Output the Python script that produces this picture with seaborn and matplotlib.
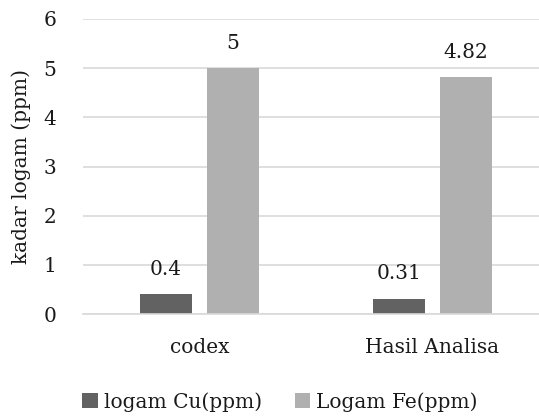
import matplotlib
matplotlib.use("Agg")
import matplotlib.pyplot as plt
import seaborn as sns
import pandas as pd

categories = ["codex", "Hasil Analisa"]
cu_values = [0.4, 0.31]
fe_values = [5, 4.82]
series_names = ["logam Cu(ppm)", "Logam Fe(ppm)"]
cu_labels = ["0.4", "0.31"]
fe_labels = ["5", "4.82"]

df = pd.DataFrame({
    "kategori": categories * 2,
    "seri": [series_names[0]] * 2 + [series_names[1]] * 2,
    "nilai": cu_values + fe_values,
})

sns.set_theme(style="white")
plt.rcParams["font.family"] = ["DejaVu Serif"]
FS = 14.5
TXT = "#1a1a1a"

fig = plt.figure(figsize=(5.39, 4.16), dpi=100)
ax = fig.add_axes([83 / 539, (416 - 314) / 416, 1 - 83 / 539, (314 - 19) / 416])

palette = {series_names[0]: "#626262", series_names[1]: "#b0b0b0"}
sns.barplot(data=df, x="kategori", y="nilai", hue="seri", order=categories,
            hue_order=series_names, palette=palette, width=0.575, gap=0.225,
            saturation=1, linewidth=0, ax=ax, legend=True)

ax.set_ylim(0, 6)
ax.set_xlim(-0.5, (539 - 83) / 233 - 0.5)
ax.set_yticks(range(0, 7))
ax.yaxis.grid(True, color="#d9d9d9", linewidth=1.2)
ax.set_axisbelow(True)
for side in ["top", "right", "left"]:
    ax.spines[side].set_visible(False)
ax.spines["bottom"].set_color("#d9d9d9")
ax.spines["bottom"].set_linewidth(1.2)
ax.tick_params(axis="both", length=0, labelsize=FS, colors=TXT)
ax.tick_params(axis="y", pad=19)
ax.tick_params(axis="x", pad=17)
ax.set_xlabel("")
ax.set_ylabel("kadar logam (ppm)", fontsize=FS, color=TXT, labelpad=9)

labels_by_series = [cu_labels, fe_labels]
for container, labs in zip(ax.containers, labels_by_series):
    ax.bar_label(container, labels=labs, padding=11, fontsize=FS, color=TXT)

handles, labs = ax.get_legend_handles_labels()
ax.legend_.remove()
fig.legend(handles, labs, loc="center", bbox_to_anchor=(280 / 539, 1 - 402 / 416),
           ncol=2, frameon=False, fontsize=FS, handlelength=0.75, handleheight=0.75,
           handletextpad=0.3, columnspacing=1.65, labelcolor=TXT)

fig.savefig("out.png", dpi=100)
